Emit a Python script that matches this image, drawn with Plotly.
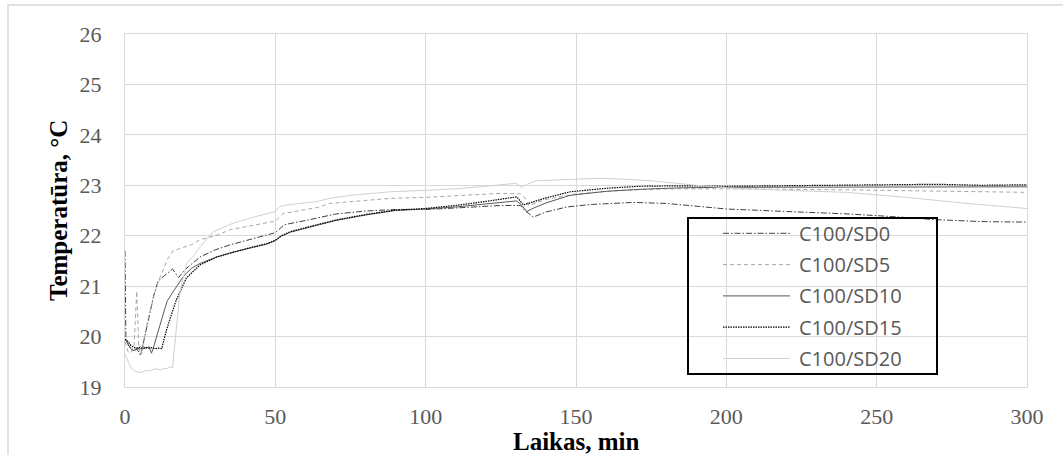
import plotly.graph_objects as go

# Time (min) and temperature (°C) readings for each mix
t_sd0 = [0, 0.3, 1, 2, 3, 4, 5.2, 6, 7, 8.2, 9.5, 11, 13, 15.8, 17.8, 20, 25, 30, 35, 40, 45,
         50, 53, 60, 70, 80, 90, 100, 110, 120, 125, 131.5, 133, 135.8, 140, 147, 155, 169,
         180, 191, 200, 220, 241, 255, 269, 285, 300]
v_sd0 = [21.7, 19.95, 19.85, 19.75, 19.72, 19.75, 19.62, 19.85, 20.1, 20.46, 20.8, 21.1, 21.2,
         21.34, 21.17, 21.33, 21.58, 21.72, 21.82, 21.9, 21.97, 22.06, 22.22, 22.3, 22.43,
         22.49, 22.52, 22.52, 22.55, 22.58, 22.6, 22.6, 22.5, 22.37, 22.47, 22.57, 22.62,
         22.66, 22.64, 22.58, 22.53, 22.48, 22.43, 22.38, 22.32, 22.28, 22.27]

t_sd5 = [0, 1, 2, 3, 3.9, 4.6, 5.3, 7.6, 10.5, 14, 16, 18, 22, 25, 30.6, 35, 40, 45, 50, 52.6,
         64, 68, 75, 88, 100, 110, 120, 125, 131.5, 133, 134.3, 137, 140, 150, 165, 180, 200,
         240, 270, 300]
v_sd5 = [19.9, 19.7, 19.68, 19.8, 20.9, 19.75, 19.65, 20.33, 21.0, 21.52, 21.7, 21.74, 21.82,
         21.92, 22.01, 22.12, 22.18, 22.23, 22.29, 22.44, 22.56, 22.64, 22.68, 22.74, 22.76,
         22.79, 22.82, 22.84, 22.83, 22.75, 22.6, 22.66, 22.72, 22.83, 22.9, 22.93, 22.93,
         22.91, 22.88, 22.86]

t_sd10 = [0, 0.5, 1, 2, 3, 4, 5, 6, 7, 8, 8.8, 9.4, 11, 12.7, 14, 16, 19.4, 22, 24.9, 30.6,
          36.2, 42, 47, 50, 52, 55, 60, 70, 80, 90, 100, 110, 120, 130.3, 132, 133.6, 136,
          140, 148, 160, 171, 185, 200, 220, 240, 260, 280, 300]
v_sd10 = [19.95, 19.9, 19.85, 19.75, 19.72, 19.78, 19.75, 19.8, 19.77, 19.8, 19.67, 19.77,
          20.1, 20.46, 20.7, 20.89, 21.19, 21.35, 21.45, 21.58, 21.68, 21.76, 21.83, 21.9,
          21.99, 22.07, 22.15, 22.3, 22.41, 22.5, 22.53, 22.57, 22.63, 22.69, 22.6, 22.48,
          22.55, 22.65, 22.8, 22.88, 22.92, 22.95, 22.96, 22.96, 22.96, 22.97, 22.97, 22.97]

t_sd15 = [0, 1, 2, 3, 4, 5, 6, 7, 8, 9, 10, 11, 12.2, 13.8, 15.5, 17.1, 20.4, 24.9, 30.6,
          36.2, 42, 47, 50, 52, 55, 60, 70, 80, 90, 100, 110, 120, 130.3, 132.5, 134.7, 140,
          148, 160, 171, 185, 200, 220, 240, 255, 270, 285, 300]
v_sd15 = [19.95, 19.9, 19.82, 19.78, 19.77, 19.79, 19.76, 19.78, 19.77, 19.78, 19.76, 19.77,
          19.76, 20.13, 20.45, 20.73, 21.16, 21.42, 21.58, 21.68, 21.77, 21.84, 21.91, 22.0,
          22.08, 22.16, 22.31, 22.42, 22.51, 22.54, 22.6, 22.68, 22.77, 22.61, 22.65, 22.75,
          22.87, 22.94, 22.98, 22.99, 22.98, 22.99, 23.0, 23.0, 23.02, 23.0, 23.01]

t_sd20 = [0, 1, 2, 3, 4, 5, 6, 7, 8, 9, 10, 11, 12, 13, 14, 15, 15.8, 16.5, 17, 18.3, 20.5,
          23, 25, 27.6, 29.3, 31, 36, 41.6, 46, 50, 51.5, 54, 64, 68, 75, 81.5, 88, 100, 110,
          120, 130, 132, 134, 137, 141, 150, 158, 166, 175, 190, 200, 220, 240, 260, 280, 300]
v_sd20 = [19.65, 19.5, 19.38, 19.33, 19.3, 19.29, 19.3, 19.33, 19.32, 19.34, 19.36, 19.35,
          19.34, 19.37, 19.36, 19.4, 19.38, 19.8, 20.1, 20.9, 21.45, 21.62, 21.78, 21.95,
          22.08, 22.12, 22.25, 22.35, 22.42, 22.48, 22.58, 22.61, 22.68, 22.74, 22.8, 22.84,
          22.87, 22.9, 22.93, 22.98, 23.04, 22.96, 23.03, 23.09, 23.1, 23.12, 23.14, 23.12,
          23.09, 23.0, 22.95, 22.9, 22.86, 22.76, 22.64, 22.54]

names = ["C100/SD0", "C100/SD5", "C100/SD10", "C100/SD15", "C100/SD20"]
times = [t_sd0, t_sd5, t_sd10, t_sd15, t_sd20]
temps = [v_sd0, v_sd5, v_sd10, v_sd15, v_sd20]
styles = [
    dict(color="#404040", width=1, dash="6px,2px,1.5px,2px"),
    dict(color="#a6a6a6", width=1, dash="4px,3px"),
    dict(color="#595959", width=1, dash="solid"),
    dict(color="#000000", width=1.2, dash="1.5px,1px"),
    dict(color="#d0d0d0", width=1, dash="solid"),
]

# Plot-area frame in pixels
PL, PR, PT, PB = 125, 1027, 34, 387
W, H = 1063, 455


def px(x):
    return (x - PL) / (PR - PL)


def py(y):
    return (PB - y) / (PB - PT)


fig = go.Figure()
for n, t, v, s in zip(names, times, temps, styles):
    fig.add_trace(go.Scatter(x=t, y=v, mode="lines", name=n, line=s, showlegend=False))

grid = "#d9d9d9"
tick_font = dict(family="Liberation Serif", size=22, color="#595959")
fig.update_xaxes(range=[0, 300], dtick=50, tick0=0, showgrid=True, gridcolor=grid, gridwidth=1,
                 showline=True, linecolor=grid, linewidth=1, mirror=True, zeroline=False,
                 ticks="", tickfont=tick_font, ticklabelstandoff=10)
fig.update_yaxes(range=[19, 26], dtick=1, tick0=19, showgrid=True, gridcolor=grid, gridwidth=1,
                 showline=True, linecolor=grid, linewidth=1, mirror=True, zeroline=False,
                 ticks="", tickfont=tick_font, ticklabelstandoff=18)

shapes = [
    # outer chart frame
    dict(type="rect", xref="paper", yref="paper", x0=px(8), x1=px(1080), y0=py(5), y1=py(470),
         line=dict(color=grid, width=1.5), layer="below"),
    # legend box
    dict(type="rect", xref="paper", yref="paper", x0=px(688), x1=px(937), y0=py(218), y1=py(374),
         line=dict(color="#000000", width=2), fillcolor="rgba(255,255,255,0)"),
]
annotations = []
row_y = [233.3, 264.6, 295.9, 327.2, 358.5]
for n, s, ry in zip(names, styles, row_y):
    shapes.append(dict(type="line", xref="paper", yref="paper", x0=px(723), x1=px(790),
                       y0=py(ry), y1=py(ry), line=s))
    annotations.append(dict(text=n, xref="paper", yref="paper", x=px(797), y=py(ry),
                            xanchor="left", yanchor="middle", showarrow=False,
                            font=dict(family="Open Sans", size=20, color="#595959")))

title_font = dict(family="Liberation Serif", size=25, color="#000000")
annotations.append(dict(text="<b>Laikas, min</b>", xref="paper", yref="paper",
                        x=px(576), y=py(441), xanchor="center", yanchor="middle",
                        showarrow=False, font=title_font))
annotations.append(dict(text="<b>Temperatūra, °C</b>", xref="paper", yref="paper",
                        x=px(58), y=py(211), xanchor="center", yanchor="middle",
                        showarrow=False, textangle=-90, font=title_font))

fig.update_layout(width=W, height=H, margin=dict(l=PL, r=W - PR, t=PT, b=H - PB),
                  plot_bgcolor="white", paper_bgcolor="white",
                  shapes=shapes, annotations=annotations, showlegend=False)

fig.write_html("out.html")
